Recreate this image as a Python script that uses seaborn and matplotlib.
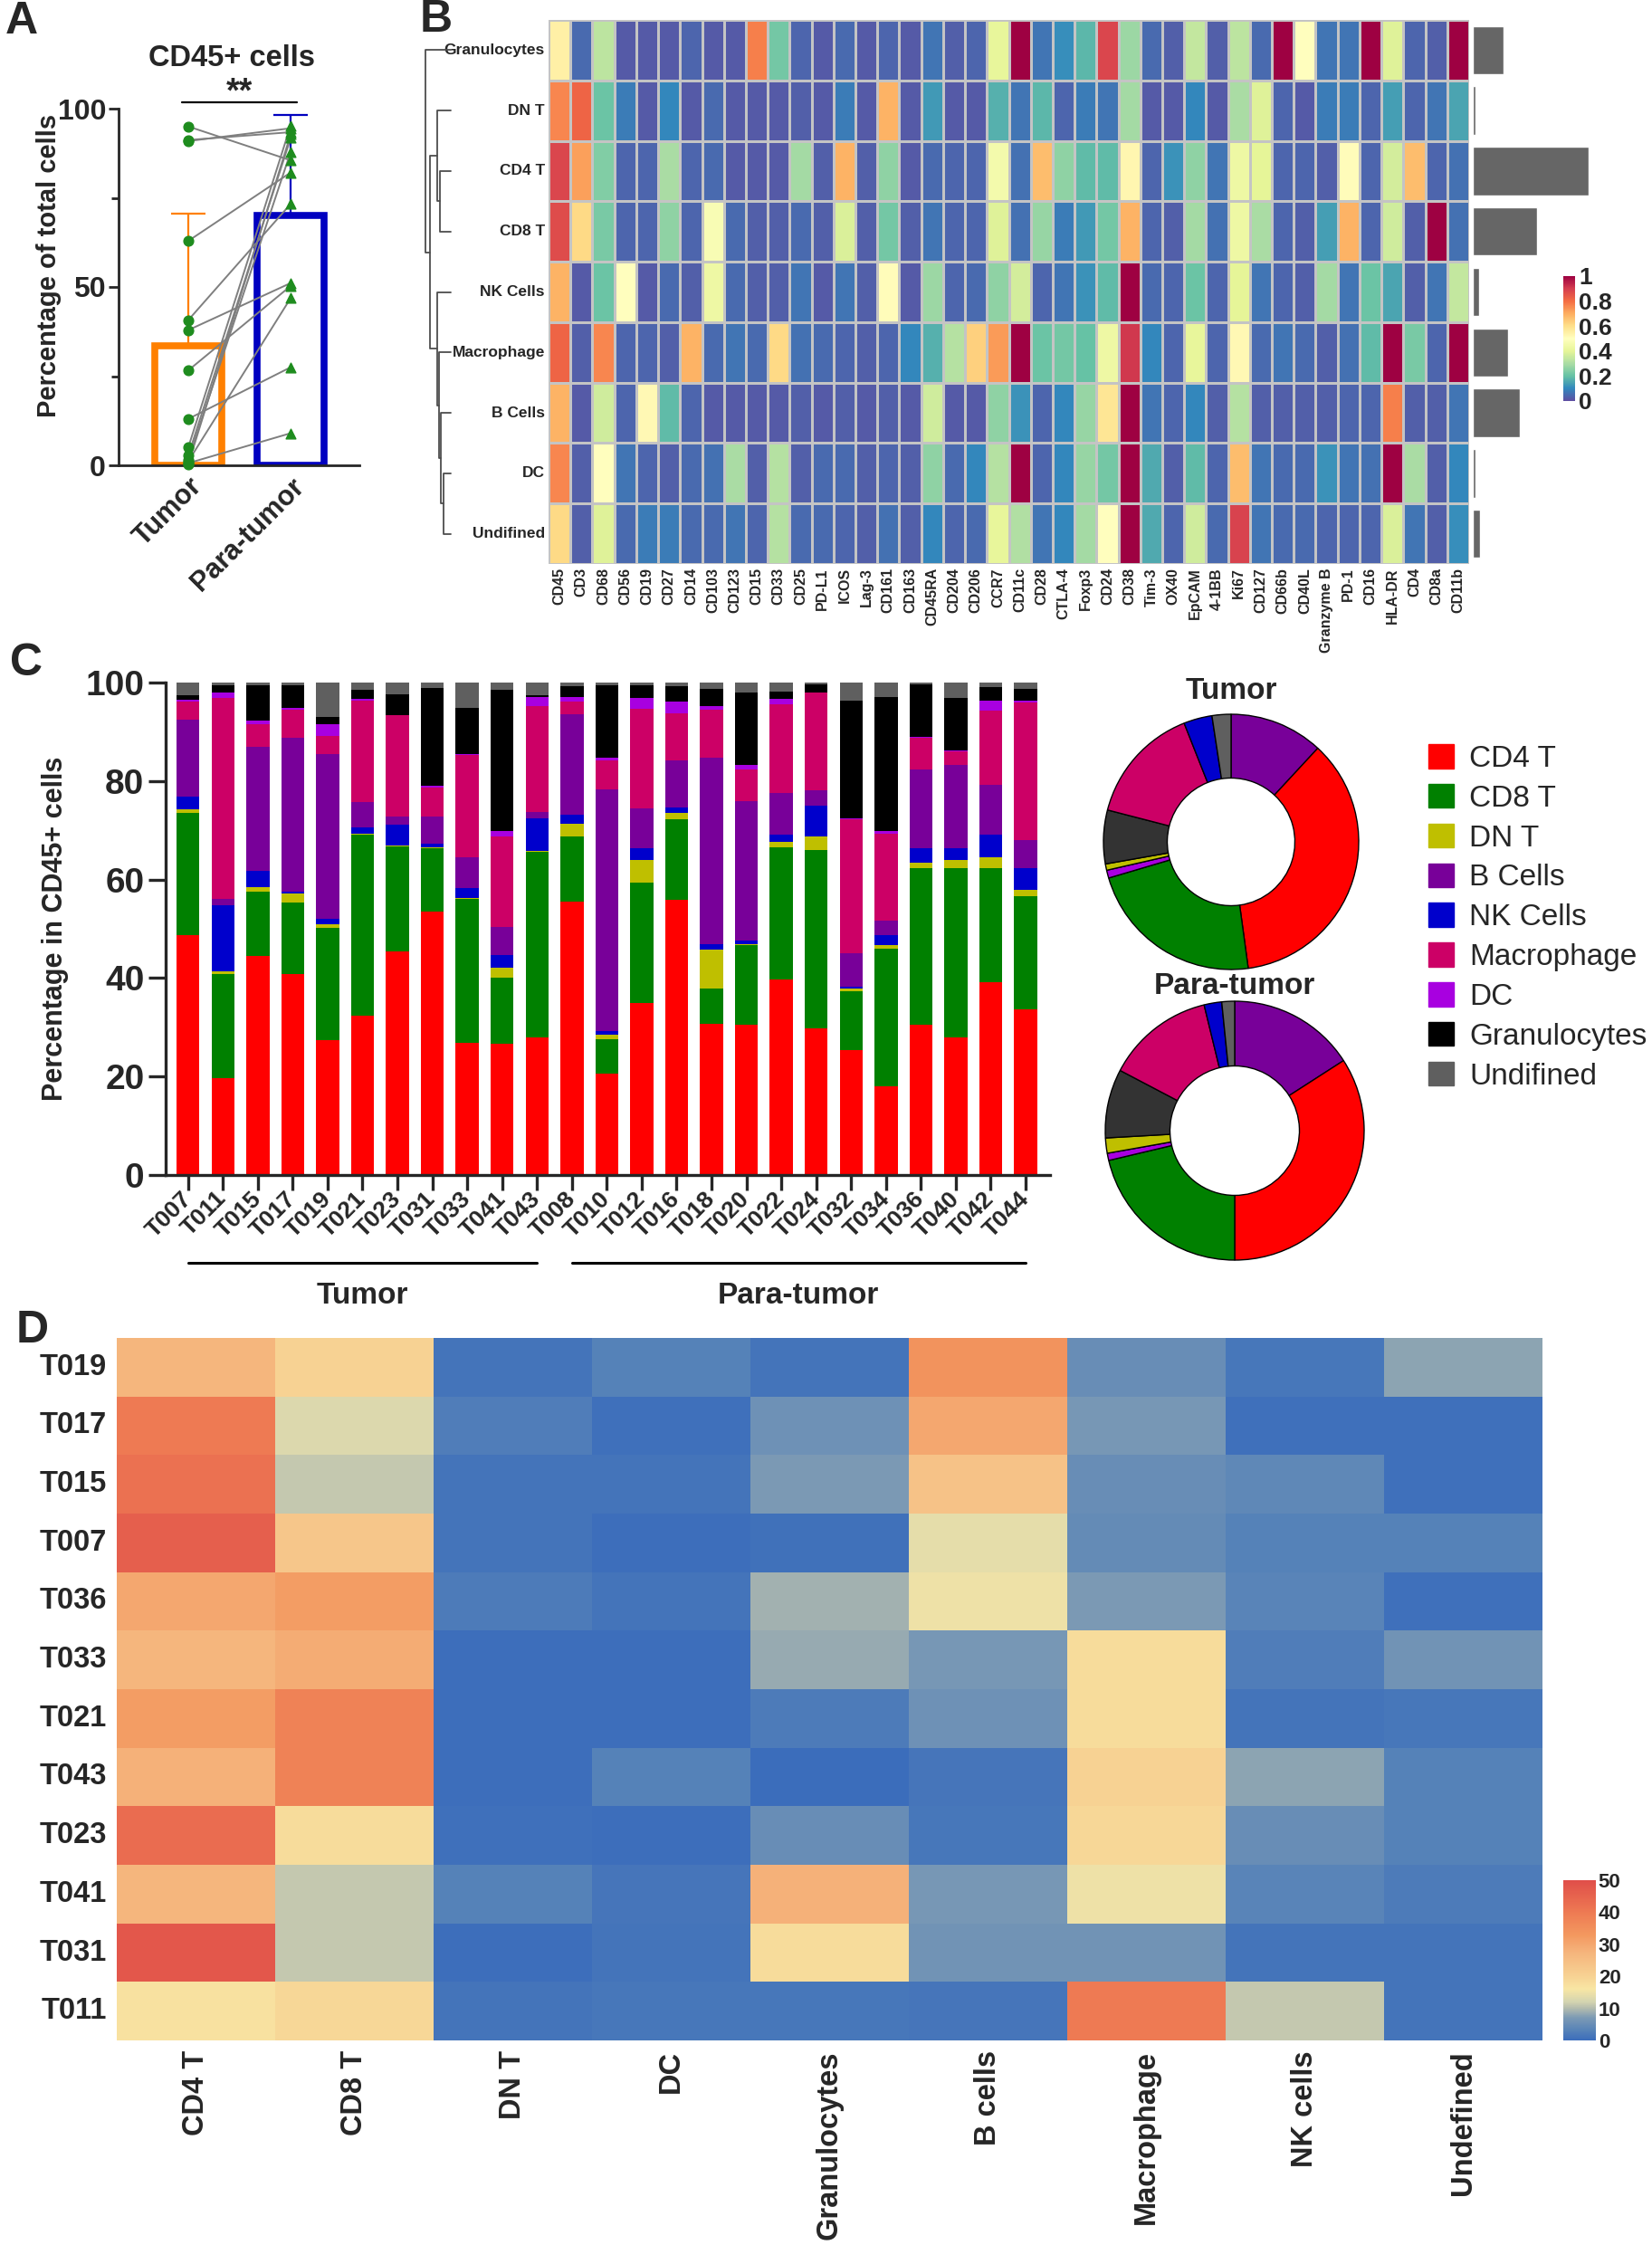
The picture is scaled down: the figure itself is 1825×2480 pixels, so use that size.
import numpy as np
import pandas as pd
import matplotlib
matplotlib.use("Agg")
import matplotlib.pyplot as plt
import matplotlib.transforms as mtransforms
from matplotlib.colors import LinearSegmentedColormap
from matplotlib.patches import Patch
import seaborn as sns

W, H = 1825, 2480

# ---------------- Panel A: CD45+ cells, paired samples ----------------
tumor_cd45 = [95.0, 91.2, 90.9, 62.9, 40.7, 37.9, 26.6, 13.0, 5.0, 2.7, 1.6, 1.1, 0.6, 0.3]
para_cd45 = [85.5, 93.4, 94.5, 82.1, 73.3, 51.1, 50.3, 27.5, 95.3, 91.8, 87.9, 46.9, 9.0, 92.8]

# ---------------- Panel B: marker expression per cluster ----------------
marker_names = ["CD45", "CD3", "CD68", "CD56", "CD19", "CD27", "CD14", "CD103", "CD123", "CD15",
                "CD33", "CD25", "PD-L1", "ICOS", "Lag-3", "CD161", "CD163", "CD45RA", "CD204", "CD206",
                "CCR7", "CD11c", "CD28", "CTLA-4", "Foxp3", "CD24", "CD38", "Tim-3", "OX40", "EpCAM",
                "4-1BB", "Ki67", "CD127", "CD66b", "CD40L", "Granzyme B", "PD-1", "CD16", "HLA-DR", "CD4",
                "CD8a", "CD11b"]
cluster_names = ["Granulocytes", "DN T", "CD4 T", "CD8 T", "NK Cells", "Macrophage", "B Cells", "DC", "Undifined"]

expr_granulocytes = [0.55, 0.05, 0.33, 0.02, 0.02, 0.02, 0.04, 0.02, 0.02, 0.77, 0.22, 0.04, 0.02, 0.05,
                     0.02, 0.04, 0.02, 0.07, 0.03, 0.04, 0.41, 1.0, 0.07, 0.11, 0.18, 0.88, 0.28, 0.05,
                     0.03, 0.34, 0.03, 0.33, 0.05, 1.0, 0.5, 0.07, 0.07, 1.0, 0.39, 0.04, 0.03, 1.0]
expr_dnt = [0.76, 0.82, 0.21, 0.08, 0.02, 0.1, 0.02, 0.05, 0.02, 0.02, 0.02, 0.03, 0.02, 0.08,
            0.02, 0.69, 0.02, 0.13, 0.02, 0.02, 0.17, 0.07, 0.18, 0.04, 0.08, 0.07, 0.29, 0.02,
            0.02, 0.1, 0.02, 0.3, 0.39, 0.04, 0.02, 0.08, 0.08, 0.04, 0.14, 0.04, 0.07, 0.15]
expr_cd4t = [0.88, 0.72, 0.24, 0.04, 0.04, 0.3, 0.04, 0.05, 0.02, 0.02, 0.02, 0.29, 0.03, 0.69,
             0.03, 0.26, 0.02, 0.05, 0.04, 0.04, 0.45, 0.06, 0.67, 0.26, 0.19, 0.19, 0.53, 0.04,
             0.12, 0.26, 0.07, 0.43, 0.4, 0.04, 0.04, 0.03, 0.51, 0.04, 0.37, 0.67, 0.04, 0.06]
expr_cd8t = [0.87, 0.61, 0.23, 0.04, 0.04, 0.26, 0.04, 0.47, 0.05, 0.03, 0.03, 0.05, 0.03, 0.38,
             0.03, 0.22, 0.03, 0.07, 0.04, 0.04, 0.39, 0.06, 0.27, 0.08, 0.13, 0.22, 0.69, 0.04,
             0.03, 0.29, 0.06, 0.43, 0.3, 0.04, 0.03, 0.14, 0.69, 0.04, 0.36, 0.03, 1.0, 0.06]
expr_nk = [0.69, 0.02, 0.21, 0.5, 0.02, 0.05, 0.03, 0.43, 0.05, 0.03, 0.03, 0.07, 0.02, 0.07,
           0.03, 0.51, 0.02, 0.28, 0.04, 0.05, 0.26, 0.37, 0.04, 0.07, 0.12, 0.19, 1.0, 0.05,
           0.04, 0.21, 0.04, 0.4, 0.07, 0.04, 0.03, 0.29, 0.07, 0.21, 0.15, 0.03, 0.07, 0.34]
expr_macrophage = [0.82, 0.03, 0.76, 0.04, 0.04, 0.03, 0.69, 0.05, 0.07, 0.05, 0.61, 0.06, 0.05, 0.04,
                   0.03, 0.04, 0.1, 0.17, 0.32, 0.63, 0.73, 1.0, 0.21, 0.22, 0.2, 0.43, 0.91, 0.1,
                   0.04, 0.41, 0.04, 0.52, 0.05, 0.07, 0.05, 0.03, 0.06, 0.19, 1.0, 0.23, 0.04, 1.0]
expr_bcells = [0.69, 0.02, 0.36, 0.04, 0.52, 0.19, 0.04, 0.02, 0.02, 0.02, 0.02, 0.03, 0.02, 0.03,
               0.02, 0.03, 0.02, 0.36, 0.02, 0.02, 0.26, 0.12, 0.04, 0.1, 0.27, 0.58, 1.0, 0.07,
               0.04, 0.1, 0.03, 0.32, 0.03, 0.03, 0.03, 0.03, 0.04, 0.04, 0.77, 0.03, 0.03, 0.07]
expr_dc = [0.76, 0.03, 0.5, 0.07, 0.04, 0.03, 0.05, 0.06, 0.3, 0.03, 0.32, 0.03, 0.05, 0.05,
           0.03, 0.04, 0.03, 0.26, 0.05, 0.1, 0.32, 1.0, 0.04, 0.1, 0.27, 0.22, 1.0, 0.16,
           0.03, 0.19, 0.04, 0.67, 0.07, 0.05, 0.05, 0.12, 0.07, 0.06, 1.0, 0.3, 0.03, 0.1]
expr_undefined = [0.61, 0.03, 0.39, 0.05, 0.08, 0.08, 0.05, 0.05, 0.07, 0.04, 0.32, 0.05, 0.05, 0.04,
                  0.03, 0.06, 0.03, 0.1, 0.04, 0.05, 0.41, 0.31, 0.07, 0.1, 0.29, 0.5, 1.0, 0.16,
                  0.04, 0.36, 0.05, 0.89, 0.07, 0.05, 0.05, 0.04, 0.04, 0.04, 0.38, 0.07, 0.03, 0.11]

# share of each cluster (grey bars on the right)
cluster_share = [9.8, 0.8, 37.1, 20.6, 2.0, 11.4, 14.9, 0.8, 2.4]

# row dendrogram: (child a, child b, merge height), scipy-style node numbering
dendro_merges = [(2, 3, 27), (1, 9, 33), (7, 8, 18), (6, 11, 25),
                 (5, 12, 30), (4, 13, 33), (10, 14, 52), (0, 15, 63)]

# ---------------- Panel C: composition per sample ----------------
sample_ids = ["T007", "T011", "T015", "T017", "T019", "T021", "T023", "T031", "T033", "T041", "T043",
              "T008", "T010", "T012", "T016", "T018", "T020", "T022", "T024", "T032", "T034", "T036",
              "T040", "T042", "T044"]
comp_cd4 = [48.8, 19.6, 44.4, 40.8, 27.4, 32.3, 45.4, 53.5, 26.8, 26.7, 27.9,
            55.5, 20.5, 35.0, 55.9, 30.7, 30.5, 39.7, 29.8, 25.4, 18.1, 30.5, 28.0, 39.1, 33.6]
comp_cd8 = [24.7, 21.2, 13.2, 14.6, 22.8, 36.8, 21.3, 12.9, 29.3, 13.3, 37.8,
            13.2, 7.1, 24.4, 16.4, 7.2, 16.1, 26.9, 36.2, 12.0, 27.8, 31.8, 34.4, 23.3, 23.0]
comp_dnt = [0.7, 0.6, 0.9, 1.7, 0.7, 0.2, 0.3, 0.1, 0.2, 2.1, 0.2,
            2.6, 0.9, 4.5, 1.2, 7.8, 0.2, 1.0, 2.8, 0.5, 0.8, 1.2, 1.5, 2.2, 1.3]
comp_nk = [2.7, 13.3, 3.3, 0.5, 1.2, 1.3, 4.2, 0.8, 1.9, 2.5, 6.6,
           1.9, 0.8, 2.5, 1.1, 1.1, 0.9, 1.5, 6.2, 0.4, 2.1, 2.9, 2.5, 4.5, 4.5]
comp_b = [15.5, 1.3, 25.1, 31.1, 33.4, 5.2, 1.6, 5.5, 6.4, 5.8, 1.2,
          20.4, 49.0, 8.0, 9.5, 38.0, 28.3, 8.4, 3.2, 6.7, 2.8, 16.0, 16.8, 10.2, 5.7]
comp_mac = [3.8, 40.9, 4.6, 5.7, 3.7, 20.5, 20.5, 5.9, 20.7, 18.4, 21.5,
            2.6, 5.9, 20.3, 9.7, 9.7, 6.4, 18.0, 19.7, 27.2, 17.7, 6.3, 2.9, 15.0, 27.9]
comp_dc = [0.3, 1.0, 0.8, 0.5, 2.3, 0.3, 0.1, 0.4, 0.1, 1.1, 1.9,
           0.8, 0.6, 2.2, 2.3, 0.7, 0.9, 1.2, 0.1, 0.2, 0.5, 0.3, 0.2, 2.0, 0.4]
comp_gran = [0.9, 1.5, 7.1, 4.5, 1.5, 2.0, 4.2, 19.8, 9.5, 28.6, 0.3,
             2.3, 14.6, 2.5, 3.2, 3.6, 14.6, 1.5, 1.6, 24.0, 27.3, 10.6, 10.5, 2.7, 2.4]
comp_und = [2.6, 0.6, 0.6, 0.6, 7.0, 1.4, 2.4, 1.1, 5.1, 1.5, 2.6,
            0.7, 0.6, 0.6, 0.7, 1.2, 2.1, 1.8, 0.4, 3.6, 2.9, 0.4, 3.2, 1.0, 1.2]

# donut charts (alphabetical order, clockwise from 12 o'clock)
pie_labels = ["B Cells", "CD4 T", "CD8 T", "DC", "DN T", "Granulocytes", "Macrophage", "NK Cells", "Undifined"]
pie_tumor = [11.9, 36.0, 22.6, 1.0, 0.8, 6.8, 15.0, 3.6, 2.4]
pie_para = [15.9, 34.1, 21.3, 0.9, 1.9, 8.6, 13.5, 2.2, 1.6]

# ---------------- Panel D: per-sample heatmap ----------------
d_samples = ["T019", "T017", "T015", "T007", "T036", "T033", "T021", "T043", "T023", "T041", "T031", "T011"]
d_celltypes = ["CD4 T", "CD8 T", "DN T", "DC", "Granulocytes", "B cells", "Macrophage", "NK cells", "Undefined"]
d_cd4 = [27, 40, 42, 46, 30, 27, 32, 28, 43, 27, 48, 17]
d_cd8 = [20, 13, 11, 23, 32, 29, 38, 38, 18, 11, 11, 19]
d_dnt = [1, 2.5, 1, 1, 2, 0.2, 0.3, 0.3, 0.4, 3, 0.3, 1]
d_dc = [3, 0.5, 1, 0.3, 1, 0.2, 0.3, 3, 0.2, 1.2, 1, 1.5]
d_gran = [1, 5.5, 7, 0.7, 9, 8.5, 2, 0.1, 5, 28, 18, 1.5]
d_b = [34, 30, 24, 14, 15, 6.5, 5.5, 1.2, 1.5, 6.5, 6, 1.2]
d_mac = [5, 6.5, 5, 4.5, 7, 18, 18, 20, 19, 15, 6, 40]
d_nk = [1.5, 0.5, 4, 3, 3.5, 2.5, 1, 8, 5, 3.5, 1, 11]
d_und = [8, 0.5, 0.5, 3, 0.5, 6, 1.5, 3, 3, 2, 1, 1]

# colours
cell_colors = {
    "CD4 T": "#FF0000", "CD8 T": "#008000", "DN T": "#BFBF00", "NK Cells": "#0000CC",
    "B Cells": "#780099", "Macrophage": "#CC0066", "DC": "#A800E0",
    "Granulocytes": "#000000", "Undifined": "#5F5F5F",
}
ORANGE = "#FF8000"
BLUE = "#0000C0"
GREEN = "#1E8C1E"


def rect(x0, y0, x1, y1):
    """pixel box (top-left origin) -> figure fraction"""
    return [x0 / W, 1 - y1 / H, (x1 - x0) / W, (y1 - y0) / H]


sns.set_style("ticks")
plt.rcParams["font.family"] = ["Liberation Sans", "DejaVu Sans"]
plt.rcParams["axes.linewidth"] = 2

fig = plt.figure(figsize=(W / 100, H / 100), dpi=100)

# ======================= Panel A =======================
axA = fig.add_axes(rect(131, 120, 397, 514))
n = len(tumor_cd45)
df_a = pd.DataFrame({
    "group": ["Tumor"] * n + ["Para-tumor"] * n,
    "value": tumor_cd45 + para_cd45,
})
sns.barplot(data=df_a, x="group", y="value", hue="group", order=["Tumor", "Para-tumor"],
            palette=[ORANGE, BLUE], saturation=1, errorbar=None, width=0.65,
            legend=False, ax=axA)
for patch, col in zip(axA.patches, [ORANGE, BLUE]):
    patch.set_facecolor("none")
    patch.set_edgecolor(col)
    patch.set_linewidth(5.5)

for i, (vals, col) in enumerate([(tumor_cd45, ORANGE), (para_cd45, BLUE)]):
    m = np.mean(vals)
    s = np.std(vals, ddof=1)
    axA.errorbar(i, m, yerr=[[0], [s]], color=col, capsize=14, capthick=1.6,
                 elinewidth=1.6, zorder=2)

for t, p in zip(tumor_cd45, para_cd45):
    axA.plot([0, 1], [t, p], color="#7F7F7F", lw=1.4, zorder=3)
axA.scatter([0] * n, tumor_cd45, marker="o", s=60, color=GREEN, zorder=4, clip_on=False)
axA.scatter([1] * n, para_cd45, marker="^", s=60, color=GREEN, zorder=4, clip_on=False)

axA.set_xlim(-0.68, 1.67)
axA.set_ylim(0, 100)
axA.set_yticks([0, 50, 100])
axA.set_yticks([25, 75], minor=True)
axA.tick_params(axis="y", which="major", length=8, width=2, labelsize=23, pad=2)
axA.tick_params(axis="y", which="minor", length=6, width=2)
axA.tick_params(axis="x", length=0, pad=6)
for lab in axA.get_yticklabels():
    lab.set_fontweight("bold")
axA.set_xticks([0, 1])
axA.set_xticklabels(["Tumor", "Para-tumor"], rotation=45, ha="right",
                    rotation_mode="anchor", fontweight="bold", fontsize=22)
axA.set_xlabel("")
axA.set_ylabel("Percentage of total cells", fontsize=21, fontweight="bold")
axA.yaxis.set_label_coords(-0.235, 0.56)
sns.despine(ax=axA)
axA.plot([-0.06, 1.06], [101.8, 101.8], color="black", lw=1.6, clip_on=False)
axA.text(0.5, 104.5, "**", ha="center", va="center", fontsize=27, fontweight="bold")
axA.text(0.47, 114, "CD45+ cells", ha="center", va="center", fontsize=23.5,
         fontweight="bold", transform=mtransforms.blended_transform_factory(axA.transAxes, axA.transData))

# ======================= Panel B =======================
expr = pd.DataFrame([expr_granulocytes, expr_dnt, expr_cd4t, expr_cd8t, expr_nk,
                     expr_macrophage, expr_bcells, expr_dc, expr_undefined],
                    index=cluster_names, columns=marker_names)
axB = fig.add_axes(rect(606, 22, 1623, 623))
caxB = fig.add_axes(rect(1727, 305, 1740, 443))
sns.heatmap(expr, cmap="Spectral_r", vmin=0, vmax=1, linewidths=1, linecolor="#C4C4C4",
            ax=axB, cbar_ax=caxB, cbar_kws={"ticks": [0, 0.2, 0.4, 0.6, 0.8, 1.0]},
            xticklabels=True, yticklabels=True)
axB.set_xlabel("")
axB.set_ylabel("")
axB.tick_params(length=0, pad=3)
axB.set_yticklabels(cluster_names, rotation=0, fontsize=12.5, fontweight="bold")
axB.set_xticklabels(marker_names, rotation=90, fontsize=11.5, fontweight="bold")
caxB.tick_params(length=0, pad=3)
caxB.set_yticklabels(["0", "0.2", "0.4", "0.6", "0.8", "1"], fontsize=19, fontweight="bold")
axB.collections[0].colorbar.outline.set_visible(False)

# dendrogram
axDen = fig.add_axes(rect(470, 22, 498, 623))
pos = {i: i + 0.5 for i in range(len(cluster_names))}
hgt = {i: 0 for i in range(len(cluster_names))}
for k, (a, b, h) in enumerate(dendro_merges):
    node = len(cluster_names) + k
    axDen.plot([hgt[a], h, h, hgt[b]], [pos[a], pos[a], pos[b], pos[b]],
               color="#4D4D4D", lw=1.3, clip_on=False)
    pos[node] = (pos[a] + pos[b]) / 2
    hgt[node] = h
axDen.set_xlim(63, 0)
axDen.set_ylim(len(cluster_names), 0)
axDen.axis("off")

# grey bars on the right
axBar = fig.add_axes(rect(1627, 22, 1800, 623))
sns.barplot(x=cluster_share, y=cluster_names, orient="h", color="#666666", saturation=1,
            width=0.8, errorbar=None, ax=axBar)
axBar.set_xlim(0, 50)
axBar.axis("off")

# ======================= Panel C =======================
axC = fig.add_axes(rect(183, 754, 1160, 1298))
comp = pd.DataFrame({
    "CD4 T": comp_cd4, "CD8 T": comp_cd8, "DN T": comp_dnt, "NK Cells": comp_nk,
    "B Cells": comp_b, "Macrophage": comp_mac, "DC": comp_dc,
    "Granulocytes": comp_gran, "Undifined": comp_und,
}, index=sample_ids)
x = np.arange(len(sample_ids))
bottom = np.zeros(len(sample_ids))
for col in comp.columns:
    axC.bar(x, comp[col].values, bottom=bottom, width=0.66, color=cell_colors[col],
            edgecolor="none")
    bottom += comp[col].values
axC.set_xlim(-0.64, len(sample_ids) - 0.3)
axC.set_ylim(0, 100)
axC.set_yticks(np.arange(0, 101, 20))
axC.set_xticks(x)
axC.set_xticklabels(sample_ids, rotation=45, ha="right", va="center",
                    rotation_mode="anchor", fontsize=19, fontweight="bold")
axC.tick_params(axis="y", length=14, width=2.4, labelsize=28, pad=3)
axC.tick_params(axis="x", length=12, width=2.4, pad=4)
for lab in axC.get_yticklabels():
    lab.set_fontweight("bold")
for sp in ["left", "bottom"]:
    axC.spines[sp].set_linewidth(2.4)
sns.despine(ax=axC)
axC.set_ylabel("Percentage in CD45+ cells", fontsize=22, fontweight="bold")
axC.yaxis.set_label_coords(-0.11, 0.5)

trC = mtransforms.blended_transform_factory(axC.transData, axC.transAxes)
n_tumor = 11
axC.plot([0, n_tumor - 1], [-0.178, -0.178], color="black", lw=2.2, transform=trC, clip_on=False)
axC.plot([n_tumor, len(sample_ids) - 1], [-0.178, -0.178], color="black", lw=2.2,
         transform=trC, clip_on=False)
axC.text((n_tumor - 1) / 2, -0.245, "Tumor", ha="center", va="center", fontsize=24,
         fontweight="bold", transform=trC)
axC.text((n_tumor + len(sample_ids) - 1) / 2, -0.245, "Para-tumor", ha="center", va="center",
         fontsize=24, fontweight="bold", transform=trC)

# donuts
pie_colors = [cell_colors[k] for k in pie_labels]
pie_colors[pie_labels.index("Granulocytes")] = "#333333"
for vals, cx, cy, r, title, ty in [(pie_tumor, 1360, 930, 141, "Tumor", 763),
                                   (pie_para, 1364, 1249, 143, "Para-tumor", 1089)]:
    axP = fig.add_axes(rect(cx - r - 4, cy - r - 4, cx + r + 4, cy + r + 4))
    axP.pie(vals, colors=pie_colors, startangle=90, counterclock=False, radius=1,
            wedgeprops=dict(width=0.5, edgecolor="black", linewidth=1.0))
    lim = (r + 4) / r
    axP.set_xlim(-lim, lim)
    axP.set_ylim(-lim, lim)
    axP.set_aspect("equal")
    fig.text(cx / W, 1 - ty / H, title, ha="center", va="center", fontsize=24, fontweight="bold")

legend_order = ["CD4 T", "CD8 T", "DN T", "B Cells", "NK Cells", "Macrophage", "DC",
                "Granulocytes", "Undifined"]
handles = [Patch(facecolor=cell_colors[k], edgecolor=cell_colors[k]) for k in legend_order]
fig.legend(handles, legend_order, loc="upper left", bbox_to_anchor=(1578 / W, 1 - 822 / H),
           frameon=False, fontsize=24, handlelength=0.85, handleheight=0.85,
           handletextpad=0.5, labelspacing=0.36, borderpad=0, borderaxespad=0)

# ======================= Panel D =======================
dmat = pd.DataFrame({
    "CD4 T": d_cd4, "CD8 T": d_cd8, "DN T": d_dnt, "DC": d_dc, "Granulocytes": d_gran,
    "B cells": d_b, "Macrophage": d_mac, "NK cells": d_nk, "Undefined": d_und,
}, index=d_samples)[d_celltypes]
d_cmap = LinearSegmentedColormap.from_list("muted_rdylbu", [
    (0.00, "#3B6DBB"), (0.06, "#5682B8"), (0.14, "#7C9AB4"), (0.20, "#B4BCAE"),
    (0.24, "#D4D4B0"), (0.32, "#F8E6A4"), (0.40, "#F7D293"), (0.55, "#F5B47C"),
    (0.66, "#F3985F"), (0.80, "#EE7A53"), (1.00, "#E04E49")])
axD = fig.add_axes(rect(129, 1478, 1704, 2254))
caxD = fig.add_axes(rect(1727, 2077, 1763, 2254))
sns.heatmap(dmat, cmap=d_cmap, vmin=0, vmax=50, ax=axD, cbar_ax=caxD,
            cbar_kws={"ticks": [0, 10, 20, 30, 40, 50]}, xticklabels=True, yticklabels=True)
axD.set_xlabel("")
axD.set_ylabel("")
axD.tick_params(length=0, pad=8)
axD.set_yticklabels(d_samples, rotation=0, fontsize=23.5, fontweight="bold")
axD.set_xticklabels(d_celltypes, rotation=90, fontsize=23.5, fontweight="bold")
caxD.tick_params(length=0, pad=2)
caxD.set_yticklabels(["0", "10", "20", "30", "40", "50"], fontsize=16, fontweight="bold")
axD.collections[0].colorbar.outline.set_visible(False)

# panel letters
for letter, lx, ly in [("A", 6, 24), ("B", 464, 22), ("C", 11, 733), ("D", 18, 1470)]:
    fig.text(lx / W, 1 - ly / H, letter, ha="left", va="center", fontsize=36, fontweight="bold")

fig.savefig("out.png", dpi=100)
